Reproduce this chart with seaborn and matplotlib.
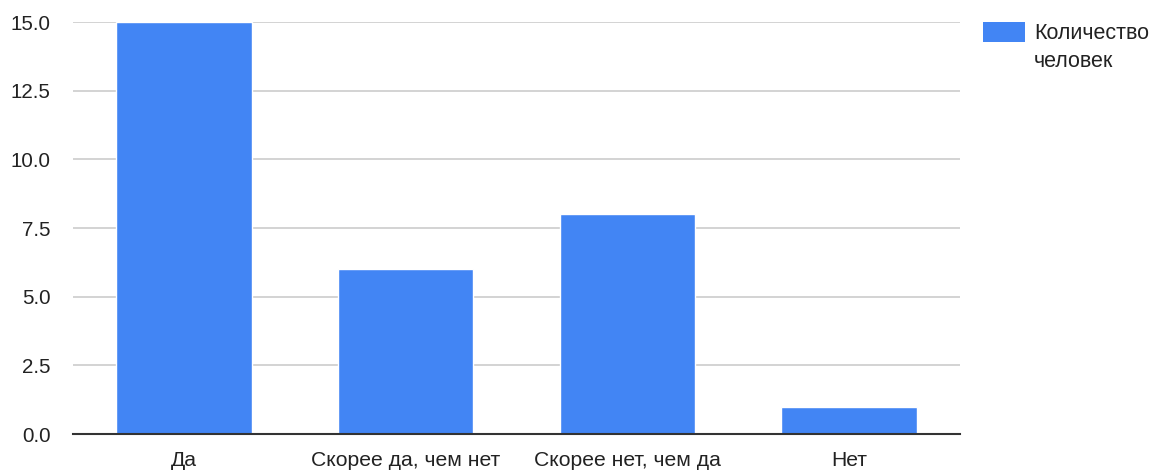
import matplotlib
matplotlib.use("Agg")
import matplotlib.pyplot as plt
from matplotlib.patches import Rectangle
import seaborn as sns

# --- данные ---
categories = ["Да", "Скорее да, чем нет", "Скорее нет, чем да", "Нет"]
counts = [15, 6, 8, 1]
series_name = ["Количество", "человек"]
y_ticks = [0.0, 2.5, 5.0, 7.5, 10.0, 12.5, 15.0]

BAR_COLOR = "#4285f4"
TEXT_COLOR = "#222222"

sns.set_theme(style="white")
plt.rcParams["font.family"] = ["Liberation Sans", "DejaVu Sans"]

W, H = 1152, 472
fig = plt.figure(figsize=(W / 100, H / 100), dpi=100)
ax = fig.add_axes([73 / W, 1 - 434 / H, (960 - 73) / W, (434 - 22) / H])

sns.barplot(x=categories, y=counts, color=BAR_COLOR, saturation=1,
            width=0.61, ax=ax, zorder=3)

ax.set_ylim(0, 15)
ax.set_xlim(-0.5, len(categories) - 0.5)
ax.set_yticks(y_ticks)
ax.set_yticklabels([f"{t:.1f}" for t in y_ticks])
ax.yaxis.grid(True, color="#cccccc", linewidth=1.2, zorder=0)
ax.set_axisbelow(True)
ax.set_xlabel("")
ax.set_ylabel("")

for side in ["top", "right", "left"]:
    ax.spines[side].set_visible(False)
ax.spines["bottom"].set_color("#333333")
ax.spines["bottom"].set_linewidth(1.5)
ax.spines["bottom"].set_zorder(4)

ax.tick_params(axis="y", length=0, pad=16, labelsize=14.8, labelcolor=TEXT_COLOR)
ax.tick_params(axis="x", length=0, pad=12, labelsize=15.2, labelcolor=TEXT_COLOR)

# легенда справа сверху
fig.patches.append(Rectangle((983 / W, 1 - 42 / H), 42 / W, 20 / H,
                             transform=fig.transFigure, facecolor=BAR_COLOR,
                             edgecolor="none"))
fig.text(1034 / W, 1 - 39 / H, series_name[0], fontsize=15.5, color=TEXT_COLOR, va="baseline")
fig.text(1034 / W, 1 - 67 / H, series_name[1], fontsize=15.5, color=TEXT_COLOR, va="baseline")

fig.savefig("out.png", dpi=100)
